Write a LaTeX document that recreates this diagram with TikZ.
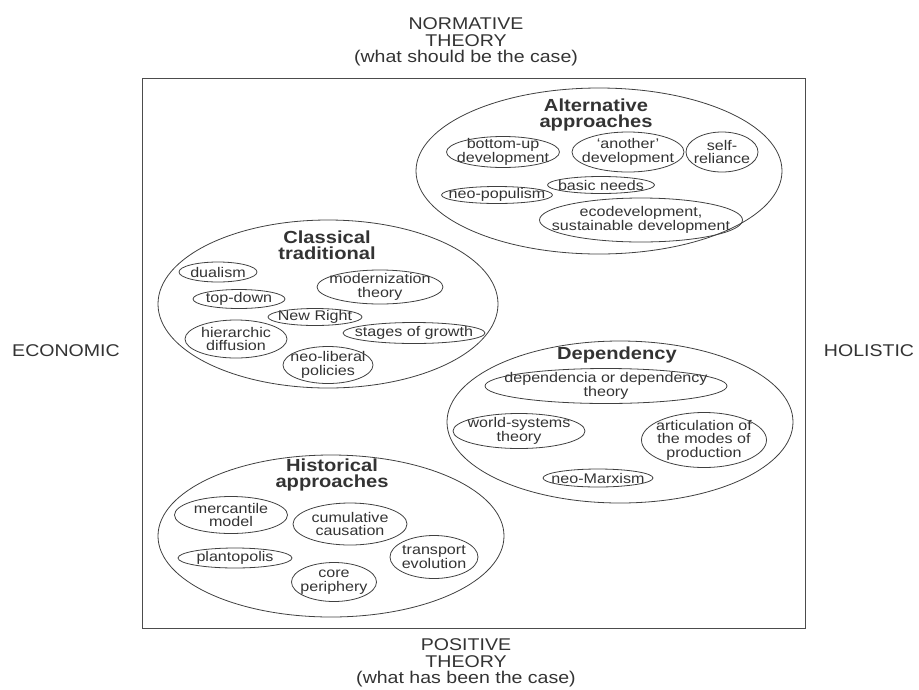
\documentclass[tikz,border=0pt]{standalone}
\usepackage{fontspec}
\setmainfont{Liberation Sans}
\newfontfamily\widefont{Liberation Sans}[FakeStretch=1.15]

\begin{document}
\begin{tikzpicture}[x=1pt,y=-1pt,
  axis/.style={font=\widefont\fontsize{17}{16.5}\selectfont, align=center, inner sep=0pt, text=black!80},
  title/.style={font=\widefont\bfseries\fontsize{17.5}{16.5}\selectfont, align=center, inner sep=0pt, text=black!80},
  item/.style={font=\widefont\fontsize{14}{13.5}\selectfont, align=center, inner sep=0pt, text=black!80},
  ring/.style={draw=black!75, line width=0.8pt}]
  \useasboundingbox (0,0) rectangle (919,689);

  % outer frame and axes
  \draw[draw=black!70, line width=0.9pt] (142,78) rectangle (805,628);
  \node[axis] (normative) at (466,42) {NORMATIVE\\THEORY\\(what should be the case)};
  \node[axis] (positive) at (466,663) {POSITIVE\\THEORY\\(what has been the case)};
  \node[axis] (economic) at (66,351) {ECONOMIC};
  \node[axis] (holistic) at (869,351) {HOLISTIC};

  % the four groups
  \node[title] (alt) at (596,115) {Alternative\\approaches};
  \node[title] (classical) at (327,245) {Classical\\traditional};
  \node[title] (dependency) at (617,355) {Dependency};
  \node[title] (historical) at (332,475) {Historical\\approaches};
  \draw[ring] (599,171) ellipse (183pt and 83pt);
  \draw[ring] (328,304) ellipse (170pt and 84pt);
  \draw[ring] (620,422) ellipse (173pt and 81pt);
  \draw[ring] (331,536) ellipse (173pt and 81pt);

  % the ideas inside them
  \foreach \n/\x/\y/\w/\h/\t in {
      alt-bottom/503/152/113/31/{bottom-up\\development},
      alt-another/628/152/112/40/{‘another’\\development},
      alt-self/722/152/72/40/{self-\\reliance},
      alt-basic/601/185/107/17/{basic needs},
      alt-neopop/497/195/111/17/{neo-populism},
      alt-eco/641/220/203/44/{ecodevelopment,\\sustainable development},
      cl-dual/218/272/78/20/{dualism},
      cl-top/239/299/92/19/{top-down},
      cl-mod/380/287/126/34/{modernization\\theory},
      cl-right/315/317/94/17/{New Right},
      cl-hier/236/339/102/38/{hierarchic\\diffusion},
      cl-stages/414/333/142/21/{stages of growth},
      cl-neolib/328/365/90/37/{neo-liberal\\policies},
      dep-dep/606/386/242/35/{dependencia or dependency\\theory},
      dep-world/519/431/132/35/{world-systems\\theory},
      dep-art/704/440/125/55/{articulation of\\the modes of\\production},
      dep-marx/598/478/110/18/{neo-Marxism},
      his-merc/231/515/113/37/{mercantile\\model},
      his-cum/350/524/114/42/{cumulative\\causation},
      his-plant/235/558/114/20/{plantopolis},
      his-trans/434/557/88/43/{transport\\evolution},
      his-core/334/582/85/39/{core\\periphery}}
  {
    \node[item] (\n) at (\x,\y) {\t};
    \draw[ring] (\n.center) ellipse ({\w*0.5pt} and {\h*0.5pt});
  }
\end{tikzpicture}
\end{document}
